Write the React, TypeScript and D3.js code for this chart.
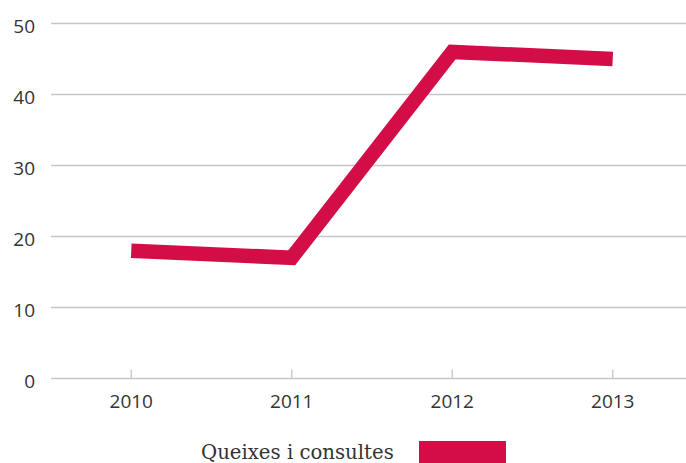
import React from "react";
import * as d3 from "d3";

const years = ["2010", "2011", "2012", "2013"];
const values = [18, 17, 46, 45];
const yTicks = [0, 10, 20, 30, 40, 50];
const seriesName = "Queixes i consultes";

const W = 686;
const H = 463;
const COLOR = "#d30e47";

export default function App() {
  const x = d3.scaleBand<string>().domain(years).range([51, 693]).padding(0);
  const cx = (d: string) => (x(d) as number) + x.bandwidth() / 2;
  const y = d3.scaleLinear().domain([0, 50]).range([378.5, 23.5]);
  const line = d3
    .line<number>()
    .x((_, i) => cx(years[i]))
    .y((v) => y(v));

  return (
    <svg
      width={W}
      height={H}
      style={{ position: "fixed", left: 0, top: 0, background: "#fff" }}
    >
      {yTicks.map((t) => (
        <g key={t}>
          <line x1={51} x2={W} y1={y(t)} y2={y(t)} stroke="#c6c6c6" strokeWidth={1.3} />
          <text
            x={35}
            y={y(t) + 9}
            textAnchor="end"
            fontFamily="'Open Sans', sans-serif"
            fontSize={19}
            fill="#333"
          >
            {t}
          </text>
        </g>
      ))}
      {years.map((d) => (
        <g key={d}>
          <line x1={cx(d)} x2={cx(d)} y1={y(0) - 9} y2={y(0)} stroke="#c6c6c6" strokeWidth={1.3} />
          <text
            x={cx(d)}
            y={407.5}
            textAnchor="middle"
            fontFamily="'Open Sans', sans-serif"
            fontSize={19}
            fill="#333"
          >
            {d}
          </text>
        </g>
      ))}
      <path
        d={line(values) || ""}
        fill="none"
        stroke={COLOR}
        strokeWidth={14.5}
        strokeLinejoin="miter"
        strokeLinecap="butt"
      />
      <text
        x={201}
        y={459}
        fontFamily="'DejaVu Serif', serif"
        fontSize={19.7}
        fill="#333"
      >
        {seriesName}
      </text>
      <rect x={419} y={441} width={87} height={22} fill={COLOR} />
    </svg>
  );
}
